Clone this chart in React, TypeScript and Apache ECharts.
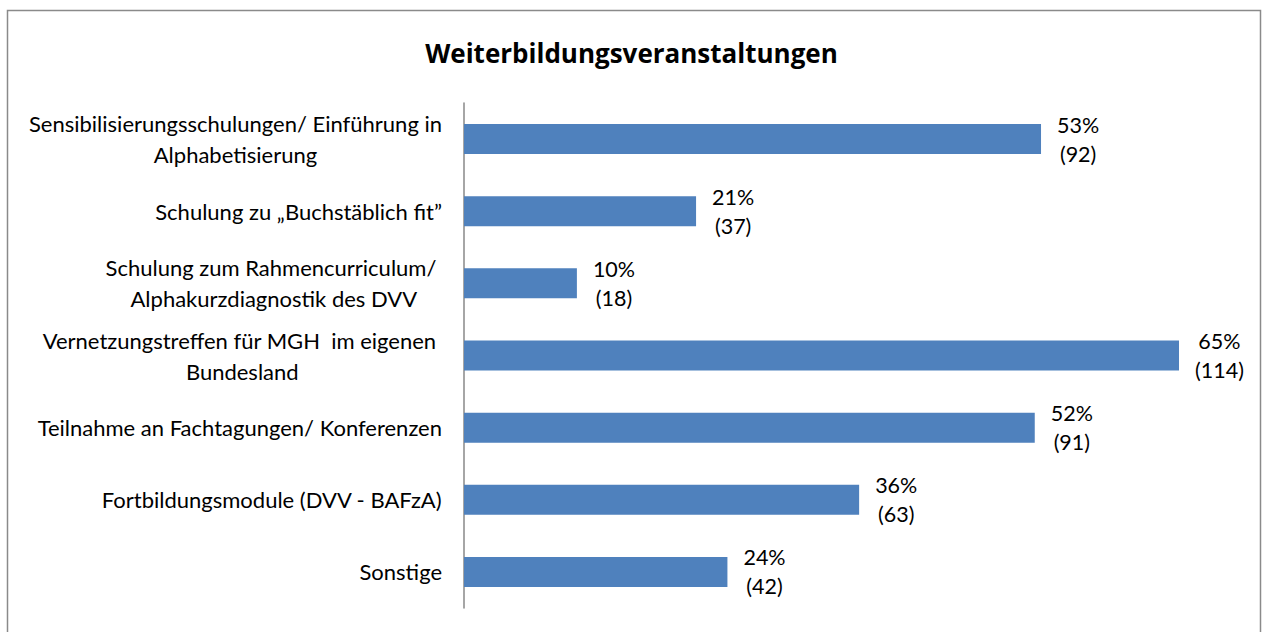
import React, { useEffect, useRef } from "react";
import * as echarts from "echarts";

const title = "Weiterbildungsveranstaltungen";
const categories = [
  "Sensibilisierungsschulungen/ Einführung in\nAlphabetisierung",
  "Schulung zu „Buchstäblich fit”",
  "Schulung zum Rahmencurriculum/ \nAlphakurzdiagnostik des DVV",
  "Vernetzungstreffen für MGH  im eigenen \nBundesland",
  "Teilnahme an Fachtagungen/ Konferenzen",
  "Fortbildungsmodule (DVV - BAFzA)",
  "Sonstige",
];
const counts = [92, 37, 18, 114, 91, 63, 42];
const percents = [53, 21, 10, 65, 52, 36, 24];

const FONT = "Lato";

export default function App() {
  const ref = useRef<HTMLDivElement>(null);
  useEffect(() => {
    if (!ref.current) return;
    const chart = echarts.init(ref.current, undefined, { renderer: "svg" });
    chart.setOption({
      animation: false,
      backgroundColor: "#ffffff",
      title: {
        text: title,
        left: "center",
        top: 35,
        textStyle: { fontFamily: "Open Sans", fontWeight: "bold", fontSize: 26, color: "#000" },
      },
      graphic: [
        {
          type: "rect",
          silent: true,
          z: -1,
          shape: { x: 7.5, y: 10.5, width: 1253, height: 640 },
          style: { fill: "none", stroke: "#8a8a8a", lineWidth: 1.5 },
        },
      ],
      grid: { left: 464, top: 103, width: 6.272 * 120, height: 505, containLabel: false },
      xAxis: {
        type: "value",
        min: 0,
        max: 120,
        show: false,
        splitLine: { show: false },
      },
      yAxis: {
        type: "category",
        inverse: true,
        data: categories,
        axisTick: { show: false },
        axisLine: { show: true, lineStyle: { color: "#888888", width: 1.5 } },
        axisLabel: {
          margin: 22,
          formatter: (v: string) =>
            v
              .split("\n")
              .map((l) => `{c|${l}}`)
              .join("\n"),
          rich: {
            c: { align: "center", fontFamily: FONT, fontSize: 22, lineHeight: 31, color: "#000" },
          },
        },
      },
      series: [
        {
          type: "bar",
          data: counts,
          barWidth: 30,
          itemStyle: { color: "#4f81bd" },
          label: {
            show: true,
            position: "right",
            distance: 16,
            formatter: (p: any) => `{c|${percents[p.dataIndex]}%}\n{c|(${counts[p.dataIndex]})}`,
            rich: {
              c: { align: "center", fontFamily: FONT, fontSize: 21.5, lineHeight: 29, color: "#000" },
            },
          },
        },
      ],
    });
    return () => chart.dispose();
  }, []);
  return (
    <div
      ref={ref}
      style={{ position: "absolute", left: 0, top: 0, width: 1263, height: 632 }}
    />
  );
}
